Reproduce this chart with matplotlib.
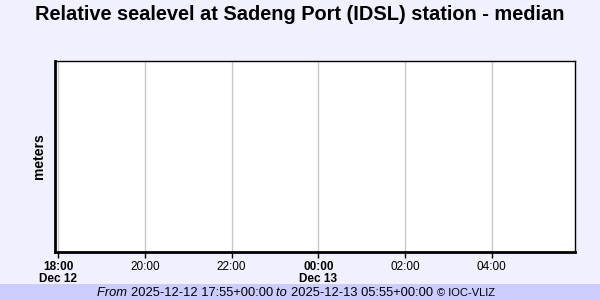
import datetime as dt
import matplotlib
matplotlib.use('Agg')
import matplotlib.pyplot as plt
from matplotlib.patches import Rectangle

plt.rcParams['font.family'] = ['Liberation Sans', 'DejaVu Sans']

# data (no observations in the window)
times = []
levels = []

start = dt.datetime(2025, 12, 12, 17, 55)
end = dt.datetime(2025, 12, 13, 5, 55)
tick_times = [dt.datetime(2025, 12, 12, 18), dt.datetime(2025, 12, 12, 20),
              dt.datetime(2025, 12, 12, 22), dt.datetime(2025, 12, 13, 0),
              dt.datetime(2025, 12, 13, 2), dt.datetime(2025, 12, 13, 4)]
tick_labels = ['18:00\nDec 12', '20:00', '22:00', '00:00\nDec 13', '02:00', '04:00']
bold_ticks = [True, False, False, True, False, False]

title = 'Relative sealevel at Sadeng Port (IDSL) station - median'

fig = plt.figure(figsize=(6, 3), dpi=100, facecolor='#f0f0ff')
ax = fig.add_axes([54.5/600, 1 - 251.5/300, 520.5/600, 191/300])
ax.plot(times, levels, color='#0000cc')
ax.set_xlim(start, end)
ax.set_xticks(tick_times)
ax.set_xticklabels(tick_labels, fontsize=8.5, linespacing=1.0)
for lab, b in zip(ax.get_xticklabels(), bold_ticks):
    if b:
        lab.set_fontweight('bold')
ax.set_yticks([])
ax.grid(axis='x', color='#c8c8c8', linewidth=1)
ax.set_axisbelow(True)
ax.tick_params(axis='x', length=4, width=1, pad=2.5)
for s in ax.spines.values():
    s.set_linewidth(1)
ax.spines['left'].set_linewidth(2)
ax.spines['bottom'].set_linewidth(2)
ax.set_ylabel('meters', fontsize=10, fontweight='bold')
ax.yaxis.set_label_coords(-8/520.5, 0.5)

fig.text(0.5, 1 - 15/300, title, ha='center', va='center', fontsize=14.4, fontweight='bold')

fig.patches.append(Rectangle((0, 0), 1, 16/300, transform=fig.transFigure,
                             facecolor='#ccccff', edgecolor='none'))
y = 7.5/300
parts = [('From ', 'italic', 9.3), ('2025-12-12 17:55+00:00 ', 'normal', 9.3),
         ('to ', 'italic', 9.3), ('2025-12-13 05:55+00:00 ', 'normal', 9.3),
         ('© IOC-VLIZ', 'normal', 8)]
fig.canvas.draw()
r = fig.canvas.get_renderer()
texts = []
for s, st, fs in parts:
    texts.append(fig.text(0, y, s, style=st, fontsize=fs, va='center', ha='left'))
widths = [t.get_window_extent(r).width for t in texts]
x = 97
for t, w in zip(texts, widths):
    t.set_x(x / 600)
    x += w

fig.savefig('out.png', dpi=100, facecolor=fig.get_facecolor())
